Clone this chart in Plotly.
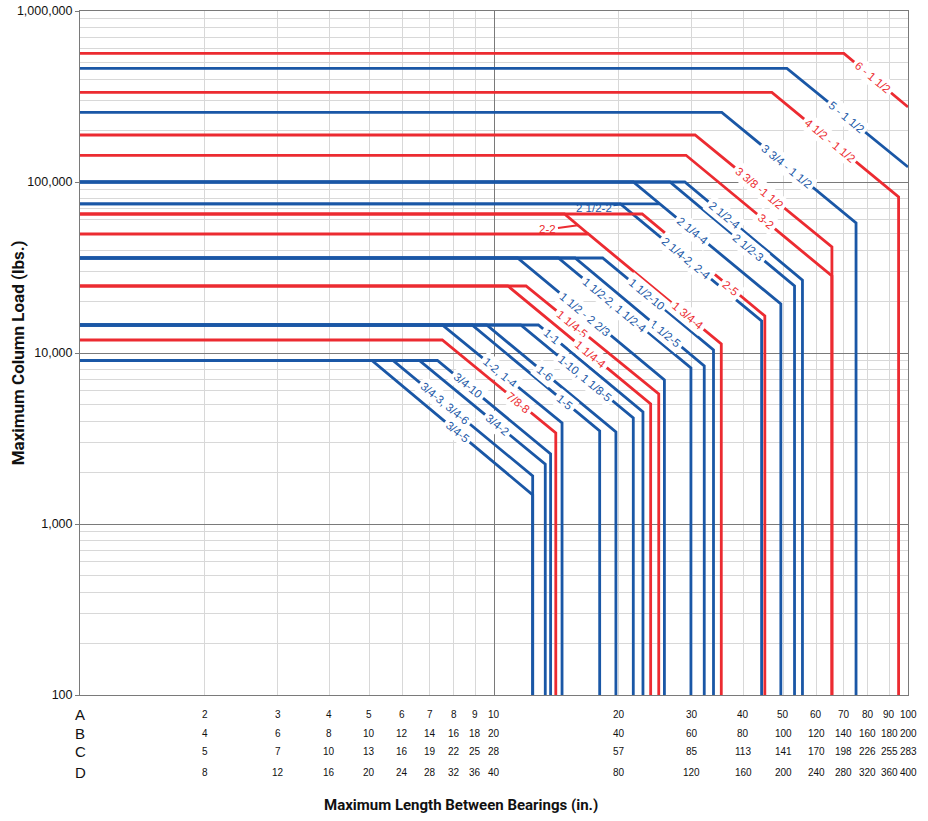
import numpy as np
import plotly.graph_objects as go

# ---------------- data ----------------
labels = ["6 - 1 1/2", "5 - 1 1/2", "4 1/2 - 1 1/2", "3 3/4 - 1 1/2", "3 3/8 -1 1/2", "3-2",
          "2 1/2-4", "2 1/2-3", "2 1/4-4", "2 1/2-2", "2 1/4-2, 2-4", "2-5", "2-2", "1 3/4-4",
          "1 1/2-10", "1 1/2-5", "1 1/2-2, 1 1/2-4", "1 1/2 - 2 2/3", "1 1/4-5", "1 1/4-4",
          "1-1", "1-10, 1 1/8-5", "1-6", "1-5", "1-2, 1-4", "7/8-8",
          "3/4-10", "3/4-2", "3/4-3, 3/4-6", "3/4-5"]
family = ["red", "blue", "red", "blue", "red", "red",
          "blue", "blue", "blue", "blue", "blue", "red", "red", "red",
          "blue", "blue", "blue", "blue", "red", "red",
          "blue", "blue", "blue", "blue", "blue", "red",
          "blue", "blue", "blue", "blue"]
max_load = [565000, 462000, 334600, 255600, 188300, 143300,
            100000, 100000, 100000, 74400, 74400, 65000, 65000, 49660,
            35940, 35940, 35940, 35940, 24650, 24650,
            14580, 14580, 14580, 14580, 14580, 11910,
            9040, 9040, 9040, 9040]
knee_len = [70.0, 51.0, 46.9, 35.5, 30.6, 29.1,
            28.9, 26.6, 21.7, 25.1, 20.2, 22.8, 14.8, 16.9,
            18.3, 15.7, 14.3, 11.4, 11.95, 10.8,
            12.8, 11.6, 9.6, 8.85, 7.5, 7.5,
            7.3, 6.6, 5.7, 5.07]
end_len = [100, 100, 94.9, 74.9, 65.5, 65.5,
           55.6, 53.2, 49.3, 25.1, 44.3, 45.1, 16.9, 35.4,
           33.9, 32.2, 29.9, 25.8, 25.0, 23.9,
           22.9, 21.7, 19.7, 18.0, 14.6, 14.1,
           13.7, 13.3, 12.4, 12.4]
end_load = [274500, 122400, 81700, 57600, 41700, 28200,
            26700, 24650, 19340, 74400, 15390, 16460, 49660, 11290,
            10410, 8395, 8170, 6950, 5760, 5030,
            4520, 4170, 3450, 3500, 3900, 3410,
            2570, 2240, 1910, 1480]
to_floor = [False, False, True, True, True, True,
            True, True, True, False, True, True, False, True,
            True, True, True, True, True, True,
            True, True, True, True, True, True,
            True, True, True, True]
label_len = [82.3, 71.2, 64.8, 51.0, 43.9, 45.4,
             36.1, 41.1, 30.1, 20.6, 29.1, 37.4, 15.95, 29.3,
             23.4, 25.9, 19.6, 16.6, 15.5, 17.1,
             13.8, 16.6, 13.28, 14.84, 10.34, 11.43,
             8.65, 10.17, 7.61, 8.14]
label_style = ["inline"] * len(labels)
label_style[labels.index("2 1/2-2")] = "leader"
label_style[labels.index("2-2")] = "leader"

FLOOR_LOAD = 100
scale_pos = [2, 3, 4, 5, 6, 7, 8, 9, 10, 20, 30, 40, 50, 60, 70, 80, 90, 100]
row_names = ["A", "B", "C", "D"]
row_A = ["2", "3", "4", "5", "6", "7", "8", "9", "10", "20", "30", "40", "50", "60", "70", "80", "90", "100"]
row_B = ["4", "6", "8", "10", "12", "14", "16", "18", "20", "40", "60", "80", "100", "120", "140", "160", "180", "200"]
row_C = ["5", "7", "10", "13", "16", "19", "22", "25", "28", "57", "85", "113", "141", "170", "198", "226", "255", "283"]
row_D = ["8", "12", "16", "20", "24", "28", "32", "36", "40", "80", "120", "160", "200", "240", "280", "320", "360", "400"]
y_ticks = [100, 1000, 10000, 100000, 1000000]
y_ticktext = ["100", "1,000", "10,000", "100,000", "1,000,000"]

# ---------------- style ----------------
COLORS = {"red": "#ec2b31", "blue": "#1a57a6"}
W, H = 928, 821
ML, MR, MT, MB = 80, 20, 11, 126
PW, PH = W - ML - MR, H - MT - MB
# slope of Euler curve (load ~ 1/L^2) on screen
angle = np.degrees(np.arctan(2 * (PH / 4) / (PW / 2)))

fig = go.Figure()
for i, lab in enumerate(labels):
    xs = [1, knee_len[i], end_len[i]]
    ys = [max_load[i], max_load[i], end_load[i]]
    if to_floor[i]:
        xs.append(end_len[i])
        ys.append(FLOOR_LOAD)
    fig.add_trace(go.Scatter(x=xs, y=ys, mode="lines", name=lab,
                             line=dict(color=COLORS[family[i]], width=2.8),
                             hoverinfo="name", showlegend=False))


def log_y_on_curve(i, xv):
    xs = np.log10([1.0, knee_len[i], end_len[i]])
    ys = np.log10([max_load[i], max_load[i], end_load[i]])
    return float(np.interp(np.log10(xv), xs, ys))


LABEL_FONT = "Arial, Liberation Sans, Helvetica, sans-serif"
for i, lab in enumerate(labels):
    lx = float(np.log10(label_len[i]))
    ly = log_y_on_curve(i, label_len[i])
    col = COLORS[family[i]]
    if label_style[i] == "inline":
        fig.add_annotation(x=lx, y=ly, xref="x", yref="y", text=lab, showarrow=False,
                           textangle=angle, bgcolor="white", borderpad=2.5,
                           font=dict(family=LABEL_FONT, size=11.5, color=col))
    else:
        fig.add_annotation(x=lx, y=ly, xref="x", yref="y", text=lab, showarrow=True,
                           arrowhead=0, arrowwidth=2, arrowcolor=col, standoff=0,
                           ax=-30, ay=4, xanchor="center", yanchor="middle",
                           font=dict(family=LABEL_FONT, size=11.5, color=col))

# scale rows under the x axis
row_y = [-0.0278, -0.0556, -0.0819, -0.1126]
for r, (name, vals) in enumerate(zip(row_names, [row_A, row_B, row_C, row_D])):
    fig.add_annotation(x=0, y=row_y[r], xref="paper", yref="paper", text=name,
                       showarrow=False, xanchor="center", yanchor="middle",
                       font=dict(family=LABEL_FONT, size=15, color="#111"))
    for p, t in zip(scale_pos, vals):
        fig.add_annotation(x=float(np.log10(p)), y=row_y[r], xref="x", yref="paper", text=t,
                           showarrow=False, xanchor="center", yanchor="middle",
                           font=dict(family=LABEL_FONT, size=10, color="#111"))

TITLE_FONT = "Roboto, Liberation Sans, Arial, sans-serif"
fig.add_annotation(x=0.46, y=-0.1608, xref="paper", yref="paper",
                   text="<b>Maximum Length Between Bearings (in.)</b>", showarrow=False,
                   xanchor="center", yanchor="middle",
                   font=dict(family=TITLE_FONT, size=15, color="#111"))
fig.add_annotation(x=-0.0749, y=0.501, xref="paper", yref="paper",
                   text="<b>Maximum Column Load (lbs.)</b>", showarrow=False, textangle=-90,
                   xanchor="center", yanchor="middle",
                   font=dict(family=TITLE_FONT, size=17, color="#111"))

minor_x = [2, 3, 4, 5, 6, 7, 8, 9, 20, 30, 40, 50, 60, 70, 80, 90]
minor_y = [m * 10 ** k for k in range(2, 6) for m in range(2, 10)]

fig.update_xaxes(type="log", range=[0, 2], tickvals=[1, 10, 100], showticklabels=False,
                 showgrid=True, gridcolor="#7a7a7a", gridwidth=1, ticks="", automargin=False,
                 showline=True, linecolor="#7a7a7a", linewidth=1, mirror=True, zeroline=False,
                 minor=dict(tickvals=minor_x, showgrid=True, gridcolor="#d8d8d8", gridwidth=1, ticks=""))
fig.update_yaxes(type="log", range=[2, 6], tickvals=y_ticks, ticktext=y_ticktext,
                 showgrid=True, gridcolor="#7a7a7a", gridwidth=1, ticks="outside", ticklen=4,
                 tickcolor="#7a7a7a", automargin=False,
                 tickfont=dict(family=LABEL_FONT, size=12.5, color="#111"),
                 showline=True, linecolor="#7a7a7a", linewidth=1, mirror=True, zeroline=False,
                 minor=dict(tickvals=minor_y, showgrid=True, gridcolor="#d8d8d8", gridwidth=1, ticks=""))

fig.update_layout(width=W, height=H, autosize=False,
                  margin=dict(l=ML, r=MR, t=MT, b=MB, pad=0),
                  paper_bgcolor="white", plot_bgcolor="white", showlegend=False)

fig.write_html("out.html", config={"displayModeBar": False},
               post_script="document.body.style.margin='0px';document.body.style.overflow='hidden';")
